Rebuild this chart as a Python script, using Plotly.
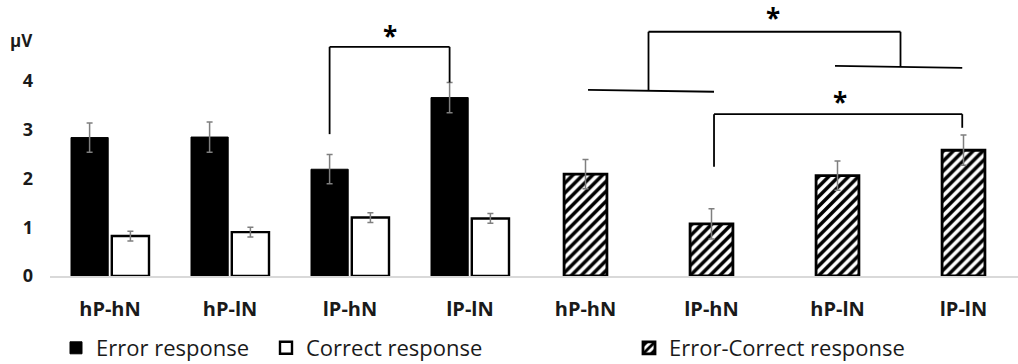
import plotly.graph_objects as go

# ---------------- data ----------------
left_cats = ["hP-hN", "hP-lN", "lP-hN", "lP-lN"]
error_resp = [2.84, 2.85, 2.19, 3.66]
error_resp_se = [0.30, 0.31, 0.30, 0.31]
correct_resp = [0.82, 0.90, 1.20, 1.18]
correct_resp_se = [0.10, 0.10, 0.10, 0.10]

right_cats = ["hP-hN", "lP-hN", "hP-lN", "lP-lN"]
diff_resp = [2.09, 1.07, 2.06, 2.58]
diff_resp_se = [0.30, 0.31, 0.30, 0.31]

y_ticks = [0, 1, 2, 3, 4]

W, H = 1018, 364
FONT = "Open Sans"

fig = go.Figure()

# offsets (category units) of bar centers
ERR_OFF, ERR_W = -0.325, 0.31
COR_OFF, COR_W = 0.015, 0.31
DIF_OFF, DIF_W = -0.17, 0.34
err_c = ERR_OFF + ERR_W / 2
cor_c = COR_OFF + COR_W / 2

ebar = dict(type="data", thickness=1.5, width=3, color="#7f7f7f")

fig.add_trace(go.Bar(
    x=left_cats, y=error_resp, name="Error response", xaxis="x", yaxis="y",
    width=ERR_W, offset=ERR_OFF,
    marker=dict(color="black", line=dict(color="black", width=1)),
    error_y=dict(array=error_resp_se, **ebar), legend="legend",
))
fig.add_trace(go.Bar(
    x=left_cats, y=correct_resp, name="Correct response", xaxis="x", yaxis="y",
    width=COR_W, offset=COR_OFF,
    marker=dict(color="white", line=dict(color="black", width=2.4)),
    error_y=dict(array=correct_resp_se, **ebar), legend="legend3",
))
fig.add_trace(go.Bar(
    x=right_cats, y=diff_resp, name="Error-Correct response", xaxis="x2", yaxis="y",
    width=DIF_W, offset=DIF_OFF,
    marker=dict(color="white", line=dict(color="black", width=2.8),
                pattern=dict(shape="/", fgcolor="black", bgcolor="white",
                             size=7, solidity=0.5, fgopacity=1)),
    error_y=dict(array=diff_resp_se, **ebar), legend="legend2",
))

# ---------------- significance brackets ----------------
LW = 1.8
shapes = []

def seg(xref, x0, y0, x1, y1):
    shapes.append(dict(type="line", xref=xref, yref="y", x0=x0, y0=y0, x1=x1, y1=y1,
                       line=dict(color="black", width=LW)))

# left panel: lP-hN vs lP-lN (error responses)
i2, i3 = left_cats.index("lP-hN"), left_cats.index("lP-lN")
xa, xb = i2 + err_c, i3 + err_c
top_l = 4.70
seg("x", xa, 2.91, xa, top_l)
seg("x", xa, top_l, xb, top_l)
seg("x", xb, top_l, xb, error_resp[i3] + error_resp_se[i3])

# right panel: group bracket (hP-hN, lP-hN) vs (hP-lN, lP-lN)
top_r = 5.01
seg("x2", 0.02, 3.82, 1.02, 3.78)
seg("x2", 1.98, 4.31, 2.99, 4.27)
seg("x2", 0.5, 3.80, 0.5, top_r)
seg("x2", 0.5, top_r, 2.5, top_r)
seg("x2", 2.5, top_r, 2.5, 4.29)

# right panel: lP-hN vs lP-lN
lvl = 3.32
seg("x2", 1.02, 2.24, 1.02, lvl)
seg("x2", 1.02, lvl, 2.99, lvl)
seg("x2", 2.99, lvl, 2.99, 3.04)

star = dict(text="<b>*</b>", showarrow=False, font=dict(family=FONT, size=26, color="black"),
            yref="y", xanchor="center", yanchor="middle")
annotations = [
    dict(xref="x", x=(xa + xb) / 2, y=4.92, **star),
    dict(xref="x2", x=1.49, y=5.30, **star),
    dict(xref="x2", x=2.02, y=3.56, **star),
    dict(xref="paper", x=8 / W, xanchor="left", yref="paper", y=(276 - 41) / 266,
         yanchor="middle", text="<b>μV</b>", showarrow=False,
         font=dict(family=FONT, size=17, color="#1a1a1a")),
]

tickfont = dict(family=FONT, size=20, color="#1a1a1a", weight="bold")
leg_y = (276 - 348) / 266
leg_common = dict(orientation="h", xanchor="left", y=leg_y, yanchor="middle",
                  font=dict(family=FONT, size=22, color="#1a1a1a"),
                  bgcolor="rgba(0,0,0,0)")
fig.update_layout(
    width=W, height=H,
    margin=dict(l=0, r=0, t=10, b=88, autoexpand=False),
    paper_bgcolor="white", plot_bgcolor="white",
    barmode="overlay",
    showlegend=True,
    xaxis=dict(domain=[50 / W, 530 / W], range=[-0.5, 3.5], type="category",
               showline=True, linecolor="#d9d9d9", linewidth=1.5, showgrid=False,
               ticks="", tickfont=tickfont, ticklabelstandoff=14, anchor="y",
               automargin=False),
    xaxis2=dict(domain=[530 / W, 1.0], range=[-0.4405, 3.4325], type="category",
                showline=True, linecolor="#d9d9d9", linewidth=1.5, showgrid=False,
                ticks="", tickfont=tickfont, ticklabelstandoff=14, anchor="y",
                automargin=False),
    yaxis=dict(range=[0, 266 / 48.75], tickvals=y_ticks, showgrid=False, zeroline=False,
               showline=False, ticks="", anchor="x", automargin=False,
               tickfont=dict(family=FONT, size=18, color="#1a1a1a", weight="bold"),
               ticklabelstandoff=16),
    legend=dict(x=56 / W, **leg_common),
    legend3=dict(x=266 / W, **leg_common),
    legend2=dict(x=629 / W, **leg_common),
    shapes=shapes,
    annotations=annotations,
)

fig.write_html("out.html")
